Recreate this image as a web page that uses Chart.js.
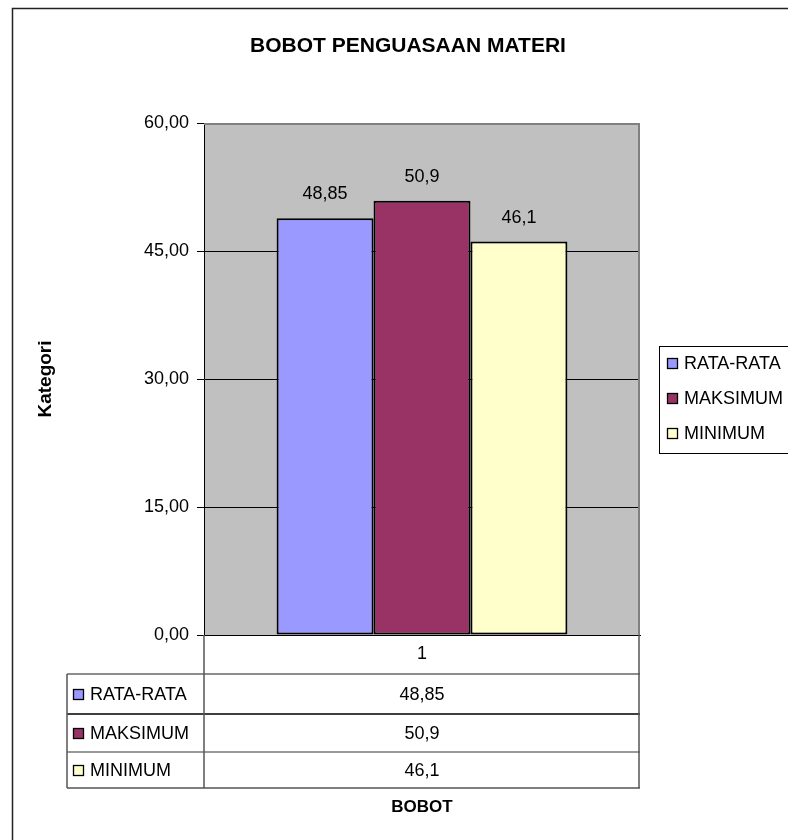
<!DOCTYPE html>
<html>
<head>
<meta charset="utf-8">
<script src="https://cdn.jsdelivr.net/npm/chart.js@4.4.0/dist/chart.umd.min.js"></script>
<style>
  html, body { margin: 0; padding: 0; background: #fff; }
  canvas { display: block; }
</style>
</head>
<body>
<canvas id="chart" width="788" height="840"></canvas>
<script>
const categories = ['1'];
const seriesNames = ['RATA-RATA', 'MAKSIMUM', 'MINIMUM'];
const rataRata = [48.85];
const maksimum = [50.9];
const minimum = [46.1];
const yTicks = [0, 15, 30, 45, 60];
const seriesColors = ['#9999FF', '#993366', '#FFFFCC'];

const FONT = "'Liberation Sans', Arial, sans-serif";

function fmt(v) {
    return String(v).replace('.', ',');
}

// background, borders, value labels, legend box and data table
const excelPlugin = {
    id: 'excelLook',
    beforeDraw(chart) {
        const ctx = chart.ctx;
        const a = chart.chartArea;
        ctx.save();
        ctx.fillStyle = '#fff';
        ctx.fillRect(0, 0, chart.width, chart.height);
        ctx.fillStyle = '#C0C0C0';
        ctx.fillRect(a.left, a.top, a.right - a.left, a.bottom - a.top);
        // outer chart border
        ctx.strokeStyle = '#222';
        ctx.lineWidth = 1.5;
        ctx.strokeRect(12.5, 8.5, 900, 900);
        ctx.restore();
    },
    beforeDatasetsDraw(chart) {
        const ctx = chart.ctx;
        const a = chart.chartArea;
        ctx.save();
        ctx.strokeStyle = '#808080';
        ctx.lineWidth = 2;
        ctx.beginPath();
        ctx.moveTo(a.left, a.top + 1);
        ctx.lineTo(a.right - 1, a.top + 1);
        ctx.lineTo(a.right - 1, a.bottom);
        ctx.stroke();
        ctx.restore();
    },
    afterDraw(chart) {
        const ctx = chart.ctx;
        const a = chart.chartArea;
        ctx.save();

        // title
        ctx.fillStyle = '#000';
        ctx.font = 'bold 21px ' + FONT;
        ctx.textAlign = 'center';
        ctx.textBaseline = 'middle';
        ctx.fillText('BOBOT PENGUASAAN MATERI', 408, 46);

        // value labels above bars
        ctx.font = '18px ' + FONT;
        chart.data.datasets.forEach((ds, i) => {
            chart.getDatasetMeta(i).data.forEach((bar, j) => {
                ctx.fillText(fmt(ds.data[j]), bar.x, bar.y - 24);
            });
        });

        // legend box
        const lx = 659, ly = 346;
        ctx.strokeStyle = '#000';
        ctx.lineWidth = 1;
        ctx.strokeRect(lx + 0.5, ly + 0.5, 200, 107);
        ctx.textAlign = 'left';
        chart.data.datasets.forEach((ds, i) => {
            const cy = ly + 17 + i * 35;
            ctx.fillStyle = ds.backgroundColor;
            ctx.fillRect(lx + 8, cy - 5, 11, 11);
            ctx.lineWidth = 1.3;
            ctx.strokeRect(lx + 8.5, cy - 4.5, 10, 10);
            ctx.fillStyle = '#000';
            ctx.fillText(ds.label, lx + 25, cy + 1);
        });

        // data table under the x axis
        const tLeft = 67;
        const rows = [a.bottom + 39, a.bottom + 79, a.bottom + 117, a.bottom + 153];
        const lineCols = ['#666', '#000', '#777', '#555'];
        rows.forEach((y, k) => {
            ctx.strokeStyle = lineCols[k];
            ctx.lineWidth = 1.5;
            ctx.beginPath();
            ctx.moveTo(tLeft, y);
            ctx.lineTo(a.right, y);
            ctx.stroke();
        });
        ctx.strokeStyle = '#555';
        ctx.lineWidth = 1.5;
        ctx.beginPath();
        ctx.moveTo(a.left, a.bottom);
        ctx.lineTo(a.left, rows[3]);
        ctx.moveTo(a.right - 1, a.bottom);
        ctx.lineTo(a.right - 1, rows[3]);
        ctx.moveTo(tLeft, rows[0]);
        ctx.lineTo(tLeft, rows[3]);
        ctx.stroke();

        const xs = chart.scales.x;
        chart.data.datasets.forEach((ds, i) => {
            const cy = (rows[i] + rows[i + 1]) / 2;
            ctx.fillStyle = ds.backgroundColor;
            ctx.fillRect(tLeft + 6, cy - 5, 11, 11);
            ctx.strokeStyle = '#000';
            ctx.lineWidth = 1.3;
            ctx.strokeRect(tLeft + 6.5, cy - 4.5, 10, 10);
            ctx.fillStyle = '#000';
            ctx.textAlign = 'left';
            ctx.fillText(ds.label, tLeft + 23, cy + 1);
            ctx.textAlign = 'center';
            ds.data.forEach((v, j) => {
                ctx.fillText(fmt(v), xs.getPixelForValue(j), cy + 1);
            });
        });
        ctx.restore();
    }
};

const seriesData = [rataRata, maksimum, minimum];

new Chart(document.getElementById('chart'), {
    type: 'bar',
    data: {
        labels: categories,
        datasets: seriesNames.map((name, i) => ({
            label: name,
            data: seriesData[i],
            backgroundColor: seriesColors[i],
            borderColor: '#000',
            borderWidth: 2,
            borderSkipped: false,
            categoryPercentage: 0.667,
            barPercentage: 1.0
        }))
    },
    options: {
        responsive: false,
        animation: false,
        events: [],
        layout: {
            padding: { left: 12, top: 123, right: 148, bottom: 0 }
        },
        plugins: {
            legend: { display: false },
            title: { display: false },
            tooltip: { enabled: false }
        },
        scales: {
            x: {
                afterFit(scale) { scale.height = 205; },
                grid: { display: false, drawTicks: false },
                border: { display: true, color: '#000', width: 1 },
                ticks: {
                    color: '#000',
                    padding: 8,
                    font: { family: FONT, size: 18 }
                },
                title: {
                    display: true,
                    text: 'BOBOT',
                    color: '#000',
                    font: { family: FONT, size: 17, weight: 'bold' },
                    padding: { top: 0, bottom: 22 }
                }
            },
            y: {
                min: 0,
                max: 60,
                afterFit(scale) { scale.width = 192; },
                afterBuildTicks(scale) {
                    scale.ticks = yTicks.map(v => ({ value: v }));
                },
                grid: {
                    color: ctx => (ctx.tick && ctx.tick.value === 60) ? '#808080' : '#000',
                    tickColor: '#000',
                    tickLength: 7,
                    lineWidth: 1
                },
                border: { display: true, color: '#000', width: 1 },
                ticks: {
                    color: '#000',
                    padding: 8,
                    font: { family: FONT, size: 18 },
                    callback: v => v.toFixed(2).replace('.', ',')
                },
                title: {
                    display: true,
                    text: 'Kategori',
                    color: '#000',
                    font: { family: FONT, size: 19, weight: 'bold' },
                    padding: { top: 22, bottom: 0 }
                }
            }
        }
    },
    plugins: [excelPlugin]
});
</script>
</body>
</html>
